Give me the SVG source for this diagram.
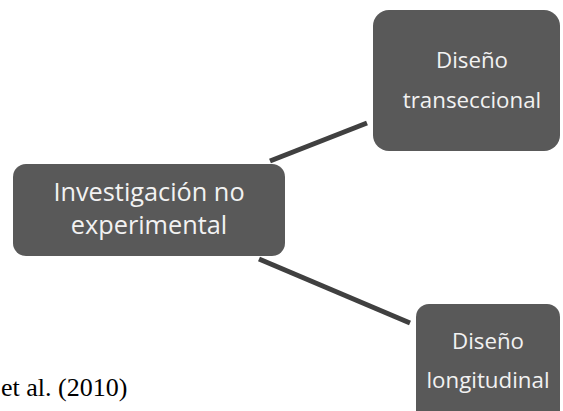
<svg xmlns="http://www.w3.org/2000/svg" width="563" height="411" viewBox="0 0 563 411">
<style>
.box{fill:#595959;}
.t{fill:#f2f2f2;font-family:"Open Sans","Noto Sans",sans-serif;text-anchor:middle;}
.big{font-size:25.3px;}
.sm{font-size:22.3px;}
.con{stroke:#404040;stroke-width:5;fill:none;}
.cap{font-family:"Liberation Serif","Times New Roman",serif;font-size:26px;fill:#000;}
</style>
<rect width="563" height="411" fill="#ffffff"/>
<g id="connectors">
<line class="con" x1="270" y1="161" x2="367" y2="123"/>
<line class="con" x1="259" y1="259" x2="410" y2="323"/>
</g>
<g id="node-main">
<rect class="box" x="13" y="164" width="272" height="92" rx="13"/>
<text class="t big" x="149" y="201">Investigación no</text>
<text class="t big" x="149" y="234">experimental</text>
</g>
<g id="node-transeccional">
<rect class="box" x="373" y="10" width="187" height="141" rx="16"/>
<text class="t sm" x="472" y="68">Diseño</text>
<text class="t sm" x="472" y="108">transeccional</text>
</g>
<g id="node-longitudinal">
<rect class="box" x="416" y="304" width="144" height="120" rx="13"/>
<text class="t sm" x="488" y="349">Diseño</text>
<text class="t sm" x="488" y="388">longitudinal</text>
</g>
<text class="cap" x="1" y="396">et al. (2010)</text>
</svg>
